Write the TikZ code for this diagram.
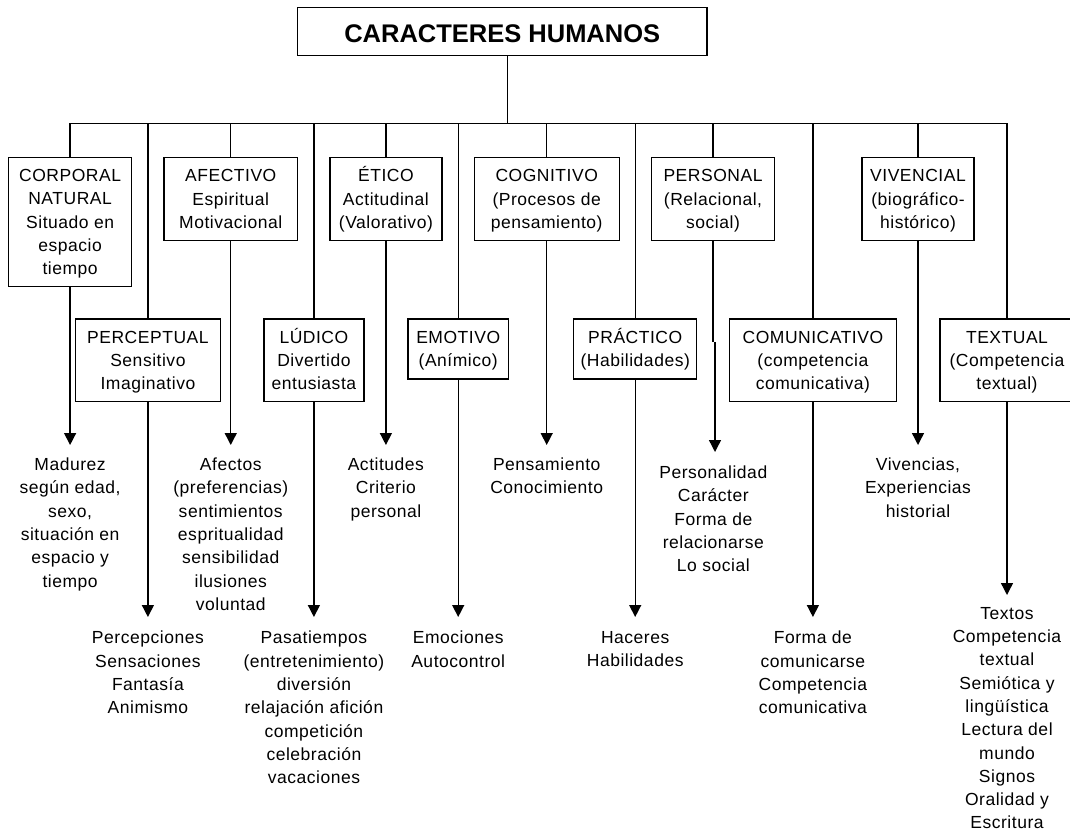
\documentclass[tikz,border=0pt]{standalone}
\usepackage{fontspec}
\setmainfont{Liberation Sans}[LetterSpace=3]
\newfontfamily\titlefont{Liberation Sans}
\newcommand\bs{\rule[-3.8pt]{0pt}{20.1pt}}
\usetikzlibrary{arrows.meta}
\begin{document}
\begin{tikzpicture}[x=1pt,y=-1pt,
  every node/.style={inner sep=0pt, align=center, font=\fontsize{17.5}{23.3}\selectfont},
  box/.style={draw, line width=1.4pt},
  row1/.style={box, minimum height=83.4pt},
  row2/.style={box, minimum height=82.7pt},
  row2s/.style={box, minimum height=60pt},
  txt/.style={anchor=north},
  ln/.style={line width=1.4pt},
  arr/.style={line width=1.4pt, -{Triangle[width=12pt,length=12pt]}}]
\useasboundingbox (0,0) rectangle (1070,835);
% title
\node[box, minimum width=409.5pt, minimum height=48.2pt, text height=22.2pt, text depth=0pt,
  font=\titlefont\fontsize{25.5}{30}\selectfont\bfseries] (title) at (502.25,31.4) {CARACTERES HUMANOS};
\coordinate (bus) at (507.5,123.3);
% row 1 boxes
\node[box, minimum width=123pt, minimum height=129.4pt] (corp) at (70.1,222) {\bs CORPORAL\\NATURAL\\Situado en\\espacio\\tiempo\bs};
\node[row1, minimum width=133.7pt] (afec) at (230.75,199) {\bs AFECTIVO\\Espiritual\\Motivacional\bs};
\node[row1, minimum width=112pt] (etico) at (385.9,199) {\bs ÉTICO\\Actitudinal\\(Valorativo)\bs};
\node[row1, minimum width=145pt] (cogn) at (546.7,199) {\bs COGNITIVO\\(Procesos de\\pensamiento)\bs};
\node[row1, minimum width=122.9pt] (pers) at (713,199) {\bs PERSONAL\\(Relacional,\\social)\bs};
\node[row1, minimum width=111.9pt] (viv) at (918,199) {\bs VIVENCIAL\\(biográfico-\\histórico)\bs};
% row 2 boxes
\node[row2, minimum width=145pt] (percep) at (147.9,360.35) {\bs PERCEPTUAL\\Sensitivo\\Imaginativo\bs};
\node[row2, minimum width=100.2pt] (ludico) at (313.9,360.35) {\bs LÚDICO\\Divertido\\entusiasta\bs};
\node[row2s, minimum width=100.2pt] (emot) at (458.2,349) {\bs EMOTIVO\\(Anímico)\bs};
\node[row2s, minimum width=123pt] (pract) at (635.2,349) {\bs PRÁCTICO\\(Habilidades)\bs};
\node[row2, minimum width=167pt] (comun) at (812.9,360.35) {\bs COMUNICATIVO\\(competencia\\comunicativa)\bs};
\node[row2, minimum width=134pt] (textual) at (1007,360.35) {\bs TEXTUAL\\(Competencia\\textual)\bs};
% texts
\node[txt] (corpT) at (70.1,457.7) {Madurez\\según edad,\\sexo,\\situación en\\espacio y\\tiempo};
\node[txt] (afecT) at (230.75,457.7) {Afectos\\(preferencias)\\sentimientos\\espritualidad\\sensibilidad\\ilusiones\\voluntad};
\node[txt] (eticoT) at (385.9,457.7) {Actitudes\\Criterio\\personal};
\node[txt] (cognT) at (546.7,457.7) {Pensamiento\\Conocimiento};
\node[txt] (persT) at (713.3,465.7) {Personalidad\\Carácter\\Forma de\\relacionarse\\Lo social};
\node[txt] (vivT) at (918,457.7) {Vivencias,\\Experiencias\\historial};
\node[txt] (percepT) at (147.9,631) {Percepciones\\Sensaciones\\Fantasía\\Animismo};
\node[txt] (ludT) at (313.9,631) {Pasatiempos\\(entretenimiento)\\diversión\\relajación afición\\competición\\celebración\\vacaciones};
\node[txt] (emotT) at (458.2,631) {Emociones\\Autocontrol};
\node[txt] (practT) at (635.2,631) {Haceres\\Habilidades};
\node[txt] (comunT) at (812.9,631) {Forma de\\comunicarse\\Competencia\\comunicativa};
\node[txt] (textT) at (1007,607) {Textos\\Competencia\\textual\\Semiótica y\\lingüística\\Lectura del\\mundo\\Signos\\Oralidad y\\Escritura};
% tree lines
\draw[ln] (title.south -| bus) -- (bus);
\draw[ln] (corp.north |- bus) -- (textual.north |- bus);
\foreach \n in {corp,afec,etico,cogn,pers,viv,percep,ludico,emot,pract,comun,textual}
  \draw[ln] (\n.north) -- (\n.north |- bus);
% arrows
\foreach \a/\b in {corp/corpT,afec/afecT,etico/eticoT,cogn/cognT,viv/vivT}
  \draw[arr, shorten >=12.7pt] (\a.south) -- (\a.south |- \b.north);
\foreach \a/\b in {percep/percepT,ludico/ludT,emot/emotT,pract/practT,comun/comunT}
  \draw[arr, shorten >=14pt] (\a.south) -- (\a.south |- \b.north);
\draw[arr, shorten >=12pt] (textual.south) -- (textT.north);
\coordinate (jogA) at (713,342);
\coordinate (jogB) at (715,342);
\coordinate (persTip) at (715,452);
\draw[ln] (pers.south) -- (jogA);
\draw[arr] (jogB) -- (persTip);
\end{tikzpicture}
\end{document}
